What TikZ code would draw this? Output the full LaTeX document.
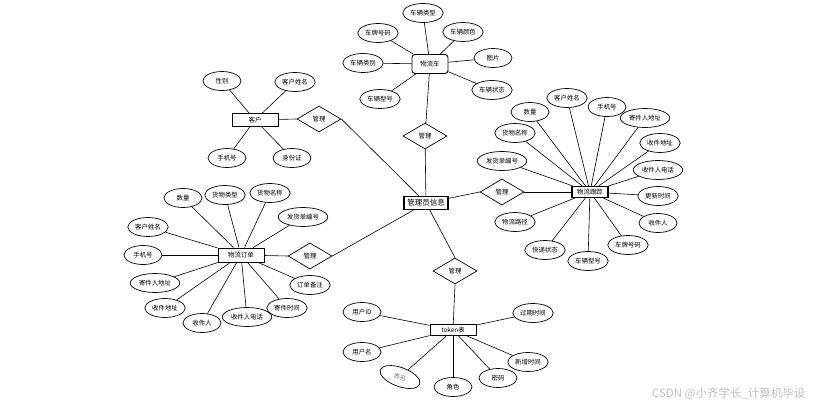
\documentclass[tikz,border=0pt]{standalone}
\usepackage{fontspec}
\setmainfont{Noto Sans CJK SC}
\usetikzlibrary{shapes.geometric}
\tikzset{
    every node/.style={font=\fontsize{6.4}{7}\selectfont},
    attr/.style={ellipse,draw,line width=0.7pt,minimum width=38pt,minimum height=19pt,inner xsep=1.5pt,inner ysep=2pt},
    entity/.style={rectangle,draw,line width=0.9pt,minimum width=46pt,minimum height=13pt,inner sep=1pt},
    rel/.style={diamond,draw,line width=0.7pt,minimum width=44pt,minimum height=26pt,inner sep=0pt},
    link/.style={line width=0.6pt}
}
\begin{document}
\begin{tikzpicture}[x=1pt,y=-1pt]
\useasboundingbox (0,0) rectangle (815,410);
% entities
\node[entity,rounded corners=3pt,minimum width=36pt,minimum height=19pt] (car) at (430,64) {物流车};
\node[entity] (cust) at (255,120) {客户};
\node[entity,minimum height=14pt] (order) at (241,255) {物流订单};
\node[entity,minimum width=36pt,minimum height=11pt,line width=1.1pt] (track) at (590,192) {物流跟踪};
\node[entity,minimum width=44pt,line width=1.1pt,font=\fontsize{7.5}{9}\selectfont] (admin) at (426,203) {管理员信息};
\node[entity,minimum height=11pt] (token) at (453,330) {token表};
% relations
\node[rel] (rcar) at (425,136) {管理};
\node[rel] (rcust) at (319,119) {管理};
\node[rel] (rorder) at (310,256) {管理};
\node[rel] (rtrack) at (502,192) {管理};
\node[rel] (rtoken) at (455,271) {管理};
\draw[link] (car) -- (rcar) -- (admin);
\draw[link] (cust) -- (rcust.west);
\draw[link] (rcust.east) -- (admin);
\draw[link] (order) -- (rorder.west);
\draw[link] (rorder.east) -- (admin);
\draw[link] (admin) -- (rtrack.west);
\draw[link] (rtrack.east) -- (track);
\draw[link] (admin) -- (rtoken.north);
\draw[link] (rtoken.south) -- (token);
% attributes
\foreach \n/\x/\y/\t in {1/423/13/车辆类型,2/378/33/车牌号码,3/463/32/车辆颜色,4/363/63/车辆类别,
    5/493/58/图片,6/380/99/车辆型号,7/492/90/车辆状态}{
    \node[attr] (car\n) at (\x,\y) {\t};
    \draw[link] (car\n) -- (car);
}
\foreach \n/\x/\y/\t in {1/222/81/性别,2/295/82/客户姓名,3/227/158/手机号,4/292/158/身份证}{
    \node[attr] (cust\n) at (\x,\y) {\t};
    \draw[link] (cust\n) -- (cust);
}
\foreach \n/\x/\y/\t in {1/183/198/数量,2/225/195/货物类型,3/270/193/货物名称,4/303/217/发货单编号,
    5/148/227/客户姓名,6/143/255/手机号,7/155/283/寄件人地址,8/310/285/订单备注,
    9/165/308/收件地址,10/202/323/收件人,11/247/317/收件人电话,12/287/308/寄件时间}{
    \node[attr] (order\n) at (\x,\y) {\t};
    \draw[link] (order\n) -- (order);
}
\foreach \n/\x/\y/\t in {1/567/98/客户姓名,2/530/112/数量,3/607/107/手机号,4/645/118/寄件人地址,
    5/515/133/货物名称,6/660/143/收件地址,7/502/161/发货单编号,8/658/170/收件人电话,
    9/658/196/更新时间,10/515/222/物流路径,11/658/223/收件人,12/628/245/车牌号码,
    13/545/250/快递状态,14/588/261/车辆型号}{
    \node[attr] (track\n) at (\x,\y) {\t};
    \draw[link] (track\n) -- (track);
}
\foreach \n/\x/\y/\t in {1/362/312/用户ID,2/362/352/用户名,4/453/387/角色,5/498/378/密码,
    6/528/362/新增时间,7/533/313/过期时间}{
    \node[attr] (token\n) at (\x,\y) {\t};
    \draw[link] (token\n) -- (token);
}
\node[attr,text=gray,rotate=-20,minimum width=42pt] (token3) at (400,377) {表名};
\draw[link] (token3) -- (token);
% watermark
\node[font=\fontsize{11.5}{13}\selectfont,text=gray!50,anchor=east] (mark) at (809,394) {CSDN @小齐学长\_计算机毕设};
\end{tikzpicture}
\end{document}
